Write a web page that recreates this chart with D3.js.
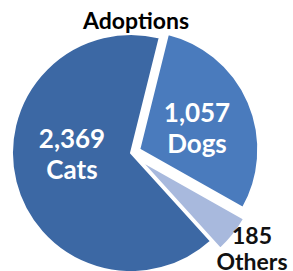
<!DOCTYPE html>
<html>
<head>
<meta charset="utf-8">
<script src="https://cdn.jsdelivr.net/npm/d3@7"></script>
<style>
  html, body { margin: 0; padding: 0; background: #fff; }
  svg { display: block; }
</style>
</head>
<body>
<div id="chart"></div>
<script>
var categories = ["Cats", "Dogs", "Others"];
var values = [2369, 1057, 185];
var title = "Adoptions";

var larg = 293;
var haut = 271;
var cx = 131, cy = 153;
var rayon = 119;
var police = "Lato, 'Open Sans', sans-serif";

// couleurs et explosion par part
var couleurs = {"Cats": "#3c68a4", "Dogs": "#4a7bbd", "Others": "#a8b9dd"};
var explose = {"Cats": 0, "Dogs": 9, "Others": 12};
// position des etiquettes (centre du texte), taille et interligne
var etiq = {
  "Cats":   {x: 72,  y: 148, fill: "#fff", taille: 26, inter: 31},
  "Dogs":   {x: 197, y: 122, fill: "#fff", taille: 26, inter: 31},
  "Others": {x: 252, y: 244, fill: "#111", taille: 23, inter: 26}
};

var data = categories.map(function(c, i) { return {cat: c, val: values[i]}; });

var svg = d3.select("#chart")
            .append("svg")
            .attr("width", larg)
            .attr("height", haut);

var pie = d3.pie()
            .sort(null)
            .value(function(d) { return d.val; })
            .startAngle(-222.2 * Math.PI / 180)
            .endAngle((360 - 222.2) * Math.PI / 180);

var arc = d3.arc().innerRadius(0).outerRadius(rayon);

var parts = pie(data);

svg.append("g")
   .attr("transform", "translate(" + cx + "," + cy + ")")
   .selectAll("path")
   .data(parts)
   .enter()
   .append("path")
   .attr("d", arc)
   .attr("transform", function(d) {
       var a = (d.startAngle + d.endAngle) / 2;
       var e = explose[d.data.cat];
       return "translate(" + (Math.sin(a) * e) + "," + (-Math.cos(a) * e) + ")";
   })
   .attr("fill", function(d) { return couleurs[d.data.cat]; })
   .attr("stroke", "#fff")
   .attr("stroke-width", 2)
   .attr("stroke-linejoin", "miter");

var fmt = d3.format(",");

// valeur
svg.selectAll("text.val")
   .data(parts)
   .enter()
   .append("text")
   .attr("class", "val")
   .attr("x", function(d) { return etiq[d.data.cat].x; })
   .attr("y", function(d) { return etiq[d.data.cat].y; })
   .attr("text-anchor", "middle")
   .attr("font-family", police)
   .attr("font-weight", "bold")
   .attr("font-size", function(d) { return etiq[d.data.cat].taille + "px"; })
   .attr("fill", function(d) { return etiq[d.data.cat].fill; })
   .text(function(d) { return fmt(d.data.val); });

// categorie
svg.selectAll("text.cat")
   .data(parts)
   .enter()
   .append("text")
   .attr("class", "cat")
   .attr("x", function(d) { return etiq[d.data.cat].x; })
   .attr("y", function(d) { return etiq[d.data.cat].y + etiq[d.data.cat].inter; })
   .attr("text-anchor", "middle")
   .attr("font-family", police)
   .attr("font-weight", "bold")
   .attr("font-size", function(d) { return etiq[d.data.cat].taille + "px"; })
   .attr("fill", function(d) { return etiq[d.data.cat].fill; })
   .text(function(d) { return d.data.cat; });

svg.append("text")
   .attr("x", 136)
   .attr("y", 29)
   .attr("text-anchor", "middle")
   .attr("font-family", police)
   .attr("font-weight", "bold")
   .attr("font-size", "23px")
   .attr("fill", "#000")
   .text(title);
</script>
</body>
</html>
